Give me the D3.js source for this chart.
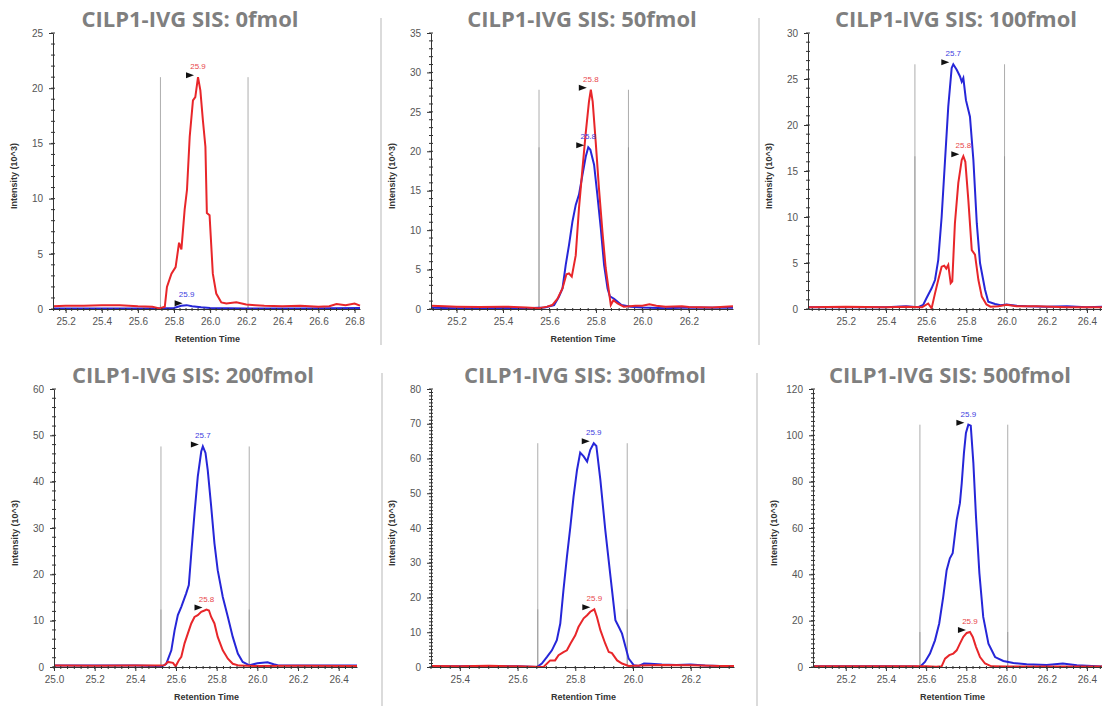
<!DOCTYPE html>
<html>
<head>
<meta charset="utf-8">
<script src="https://cdn.jsdelivr.net/npm/d3@7"></script>
<style>
  body { margin: 0; background: #fff; }
  svg { display: block; }
</style>
</head>
<body>
<div id="chart"></div>
<script>
// panel titles and axis settings
const titles = ["CILP1-IVG SIS: 0fmol", "CILP1-IVG SIS: 50fmol", "CILP1-IVG SIS: 100fmol",
                "CILP1-IVG SIS: 200fmol", "CILP1-IVG SIS: 300fmol", "CILP1-IVG SIS: 500fmol"];
const xDomains = [[25.13, 26.83], [25.09, 26.39], [25.012, 26.48], [25.0, 26.49], [25.3, 26.35], [25.037, 26.48]];
const xTickVals = [
  [25.2, 25.4, 25.6, 25.8, 26.0, 26.2, 26.4, 26.6, 26.8],
  [25.2, 25.4, 25.6, 25.8, 26.0, 26.2],
  [25.2, 25.4, 25.6, 25.8, 26.0, 26.2, 26.4],
  [25.0, 25.2, 25.4, 25.6, 25.8, 26.0, 26.2, 26.4],
  [25.4, 25.6, 25.8, 26.0, 26.2],
  [25.2, 25.4, 25.6, 25.8, 26.0, 26.2, 26.4]
];
const yMax = [25, 35, 30, 60, 80, 120];
const yStep = [5, 5, 5, 10, 10, 20];
const yMinorStep = [1, 1, 1, 2, 1, 2];
const peakBounds = [[25.725, 26.21], [25.555, 25.94], [25.544, 25.99], [25.526, 25.96], [25.67, 25.98], [25.569, 26.006]];
const redApexLabels = ["25.9", "25.8", "25.8", "25.8", "25.9", "25.9"];
const blueApexLabels = ["25.9", "25.8", "25.7", "25.7", "25.9", "25.9"];

// traces: [retention time, intensity 10^3]
const p1Red = [[25.13,0.25],[25.2,0.3],[25.3,0.3],[25.4,0.35],[25.5,0.35],[25.55,0.3],[25.6,0.25],[25.68,0.2],[25.72,0.05],[25.749,0.2],[25.761,2.0],[25.786,3.2],[25.809,3.8],[25.828,6.0],[25.841,5.4],[25.859,9.0],[25.872,10.8],[25.887,15.6],[25.905,18.9],[25.918,19.2],[25.933,21.0],[25.946,19.8],[25.96,17.1],[25.974,14.7],[25.982,8.7],[25.997,8.5],[26.015,3.2],[26.034,1.4],[26.062,0.6],[26.09,0.5],[26.145,0.6],[26.2,0.4],[26.25,0.35],[26.3,0.3],[26.4,0.25],[26.5,0.3],[26.6,0.2],[26.66,0.25],[26.7,0.45],[26.75,0.35],[26.8,0.5],[26.83,0.3]];
const p1Blue = [[25.13,0.05],[25.4,0.05],[25.7,0.05],[25.8,0.1],[25.84,0.3],[25.87,0.35],[25.9,0.25],[25.95,0.15],[26.0,0.1],[26.2,0.05],[26.5,0.05],[26.83,0.1]];
const p2Red = [[25.09,0.4],[25.15,0.35],[25.2,0.3],[25.3,0.25],[25.4,0.3],[25.5,0.2],[25.555,0.1],[25.59,0.3],[25.612,0.5],[25.634,1.27],[25.656,2.6],[25.673,4.4],[25.684,4.5],[25.696,4.1],[25.713,6.8],[25.727,12.8],[25.742,17.8],[25.756,22.3],[25.77,26.3],[25.778,27.8],[25.786,26.3],[25.799,21.2],[25.813,15.3],[25.828,9.8],[25.842,5.2],[25.856,2.2],[25.864,0.5],[25.875,1.1],[25.893,0.7],[25.92,0.3],[25.97,0.4],[26.0,0.4],[26.03,0.6],[26.06,0.4],[26.1,0.3],[26.17,0.35],[26.2,0.25],[26.3,0.2],[26.39,0.35]];
const p2Blue = [[25.09,0.15],[25.2,0.1],[25.3,0.1],[25.4,0.15],[25.5,0.1],[25.58,0.2],[25.62,0.5],[25.64,1.5],[25.656,2.6],[25.67,5.6],[25.684,8.1],[25.699,11.1],[25.713,13.2],[25.727,14.5],[25.742,17.0],[25.756,19.3],[25.767,20.5],[25.776,20.2],[25.792,18.3],[25.806,14.5],[25.821,10.2],[25.835,5.6],[25.85,2.6],[25.86,1.6],[25.878,1.3],[25.91,0.5],[25.95,0.3],[26.0,0.2],[26.1,0.1],[26.2,0.2],[26.39,0.15]];
const p3Red = [[25.012,0.2],[25.2,0.25],[25.4,0.2],[25.5,0.25],[25.58,0.2],[25.61,0.6],[25.627,0.07],[25.644,1.7],[25.66,3.15],[25.677,4.6],[25.69,4.7],[25.7,4.4],[25.71,4.8],[25.722,2.8],[25.73,3.0],[25.743,9.3],[25.76,13.7],[25.777,16.2],[25.785,16.6],[25.795,16.0],[25.81,11.8],[25.827,6.4],[25.843,5.9],[25.86,3.15],[25.877,1.35],[25.9,0.5],[25.92,0.25],[25.96,0.3],[26.0,0.45],[26.05,0.3],[26.15,0.3],[26.3,0.2],[26.48,0.2]];
const p3Blue = [[25.012,0.2],[25.2,0.2],[25.4,0.2],[25.5,0.3],[25.56,0.2],[25.585,0.43],[25.602,1.2],[25.627,2.25],[25.644,3.15],[25.66,5.3],[25.677,10.0],[25.694,16.2],[25.71,22.0],[25.727,26.2],[25.735,26.6],[25.752,26.0],[25.768,25.3],[25.777,24.7],[25.785,25.1],[25.798,22.7],[25.818,20.9],[25.835,16.2],[25.852,9.3],[25.868,5.0],[25.893,2.1],[25.909,0.8],[25.943,0.55],[25.97,0.4],[26.0,0.5],[26.05,0.35],[26.1,0.3],[26.2,0.25],[26.3,0.3],[26.4,0.2],[26.48,0.25]];
const p4Red = [[25.0,0.3],[25.2,0.25],[25.4,0.3],[25.52,0.3],[25.544,0.4],[25.56,1.1],[25.585,0.9],[25.598,0.15],[25.614,1.45],[25.626,2.2],[25.642,5.1],[25.658,7.2],[25.675,9.4],[25.691,10.8],[25.707,11.2],[25.724,11.9],[25.74,12.2],[25.75,12.4],[25.762,12.2],[25.773,10.8],[25.789,9.4],[25.805,6.5],[25.83,3.6],[25.855,1.8],[25.879,0.7],[25.91,0.3],[26.0,0.2],[26.2,0.25],[26.49,0.2]];
const p4Blue = [[25.0,0.3],[25.2,0.3],[25.4,0.3],[25.5,0.2],[25.527,0],[25.552,0.7],[25.577,3.6],[25.593,7.9],[25.609,11.2],[25.626,13.0],[25.65,15.9],[25.663,17.7],[25.675,24.5],[25.691,33.2],[25.707,41.1],[25.724,46.5],[25.732,47.6],[25.745,46.2],[25.756,42.5],[25.773,34.6],[25.789,26.7],[25.805,20.9],[25.83,15.1],[25.855,10.8],[25.879,6.5],[25.904,2.9],[25.928,1.1],[25.961,0.37],[26.0,0.8],[26.05,1.0],[26.08,0.6],[26.1,0.4],[26.2,0.3],[26.3,0.35],[26.49,0.3]];
const p5Red = [[25.3,0.3],[25.4,0.25],[25.5,0.35],[25.6,0.2],[25.66,0.1],[25.69,0.0],[25.713,1.9],[25.73,1.9],[25.742,3.4],[25.759,4.3],[25.771,4.8],[25.783,6.7],[25.8,9.1],[25.811,11.5],[25.829,14.0],[25.841,14.9],[25.852,15.9],[25.866,16.6],[25.875,14.4],[25.887,10.6],[25.904,6.7],[25.916,4.3],[25.927,4.0],[25.945,1.9],[25.962,1.0],[25.985,0.3],[26.03,0.4],[26.1,0.6],[26.2,0.5],[26.3,0.3],[26.35,0.3]];
const p5Blue = [[25.3,0.2],[25.4,0.2],[25.5,0.3],[25.6,0.2],[25.667,0],[25.684,1.0],[25.702,2.9],[25.719,4.8],[25.736,7.7],[25.748,12.5],[25.759,22.1],[25.771,31.7],[25.783,40.4],[25.794,49.0],[25.806,56.7],[25.817,61.7],[25.829,60.6],[25.841,59.1],[25.852,62.5],[25.864,64.4],[25.873,63.6],[25.887,53.8],[25.904,39.4],[25.922,26.0],[25.939,13.5],[25.951,11.5],[25.962,9.6],[25.974,5.8],[25.985,2.4],[26.003,0.5],[26.02,0.3],[26.038,1.0],[26.06,0.9],[26.1,0.7],[26.15,0.6],[26.2,0.7],[26.25,0.4],[26.3,0.3],[26.35,0.2]];
const p6Red = [[25.037,0.3],[25.2,0.3],[25.4,0.3],[25.6,0.3],[25.65,0.1],[25.677,0.3],[25.694,3.6],[25.715,5.1],[25.735,5.8],[25.752,7.2],[25.768,10.1],[25.785,13.0],[25.802,14.7],[25.818,15.1],[25.832,13.0],[25.848,8.7],[25.868,4.3],[25.893,1.5],[25.925,0.3],[26.0,0.2],[26.2,0.2],[26.48,0.2]];
const p6Blue = [[25.037,0.3],[25.2,0.3],[25.4,0.3],[25.55,0.2],[25.569,0],[25.594,2.2],[25.619,5.8],[25.644,11.5],[25.665,18.8],[25.685,30.3],[25.702,41.8],[25.718,46.9],[25.732,49.1],[25.752,63.5],[25.768,70.7],[25.777,79.3],[25.788,92.3],[25.798,101.0],[25.81,104.6],[25.822,104.2],[25.835,88.0],[25.848,64.9],[25.865,40.4],[25.884,21.6],[25.91,10.1],[25.943,4.3],[25.984,2.6],[26.034,1.7],[26.1,1.2],[26.2,0.9],[26.28,1.5],[26.35,0.8],[26.45,0.3],[26.48,0.2]];

const redSeries = [p1Red, p2Red, p3Red, p4Red, p5Red, p6Red];
const blueSeries = [p1Blue, p2Blue, p3Blue, p4Blue, p5Blue, p6Blue];

const width = 1102, height = 706;
// plot area of each panel in pixels
const boxes = [
  { left: 53,  right: 360,  top: 33,  bottom: 309 },
  { left: 431, right: 733,  top: 33,  bottom: 309 },
  { left: 808, right: 1103, top: 33,  bottom: 309 },
  { left: 54,  right: 357,  top: 389, bottom: 667 },
  { left: 431, right: 734,  top: 389, bottom: 667 },
  { left: 813, right: 1103, top: 389, bottom: 667 }
];
const titleX = [190, 582, 956, 193, 585, 950];

const red = "#e8262a", blue = "#2626d8";

let svg = d3.select("#chart")
  .append("svg")
  .attr("width", width)
  .attr("height", height);

// thin separators between panels
const seps = [[381, 18, 345], [759, 18, 345], [382, 373, 706], [757, 373, 706]];
svg.selectAll(".sep")
  .data(seps)
  .join("line")
  .attr("x1", d => d[0]).attr("x2", d => d[0])
  .attr("y1", d => d[1]).attr("y2", d => d[2])
  .attr("stroke", "#cfcfcf")
  .attr("stroke-width", 1.5);

boxes.forEach((b, i) => {
  let g = svg.append("g");

  let x = d3.scaleLinear().domain(xDomains[i]).range([b.left, b.right]);
  let y = d3.scaleLinear().domain([0, yMax[i]]).range([b.bottom, b.top]);

  // title
  g.append("text")
    .attr("x", titleX[i])
    .attr("y", b.top - 6)
    .attr("text-anchor", "middle")
    .style("font-family", "'Open Sans', sans-serif")
    .style("font-weight", "bold")
    .style("font-size", "22px")
    .style("fill", "#7f7f7f")
    .text(titles[i]);

  // peak integration boundaries, one line per trace apex
  let redMax = d3.max(redSeries[i], d => d[1]);
  let blueMax = d3.max(blueSeries[i], d => d[1]);
  [redMax, blueMax].forEach(m => {
    g.selectAll(null)
      .data(peakBounds[i])
      .join("line")
      .attr("x1", d => x(d)).attr("x2", d => x(d))
      .attr("y1", y(0)).attr("y2", y(m))
      .attr("stroke", "#8a8a8a")
      .attr("stroke-opacity", 0.7)
      .attr("stroke-width", 1);
  });

  // traces
  let line = d3.line().x(d => x(d[0])).y(d => y(d[1]));
  g.append("path")
    .datum(blueSeries[i])
    .attr("d", line)
    .attr("fill", "none")
    .attr("stroke", blue)
    .attr("stroke-width", 2);
  g.append("path")
    .datum(redSeries[i])
    .attr("d", line)
    .attr("fill", "none")
    .attr("stroke", red)
    .attr("stroke-width", 2);

  // apex markers
  const apex = [
    { pt: redSeries[i].reduce((a, c) => c[1] > a[1] ? c : a), label: redApexLabels[i], color: "#e8474b" },
    { pt: blueSeries[i].reduce((a, c) => c[1] > a[1] ? c : a), label: blueApexLabels[i], color: "#4040e0" }
  ];
  apex.forEach(a => {
    let ax = x(a.pt[0]), ay = y(a.pt[1]);
    g.append("path")
      .attr("d", `M${ax - 12},${ay - 5} L${ax - 4},${ay - 2} L${ax - 12},${ay + 1} Z`)
      .attr("fill", "#111");
    g.append("text")
      .attr("x", ax)
      .attr("y", ay - 8)
      .attr("text-anchor", "middle")
      .style("font-family", "'Liberation Sans', Arial, sans-serif")
      .style("font-size", "8px")
      .style("fill", a.color)
      .text(a.label);
  });

  // y axis
  let yTicks = d3.range(0, yMax[i] + 0.001, yStep[i]);
  let yMinor = d3.range(0, yMax[i] + 0.001, yMinorStep[i]);
  let yAxis = g.append("g")
    .attr("transform", `translate(${b.left},0)`)
    .call(d3.axisLeft(y).tickValues(yTicks).tickSize(4).tickSizeOuter(0).tickPadding(6));
  yAxis.selectAll("text")
    .style("font-family", "'Liberation Sans', Arial, sans-serif")
    .style("font-size", "10px")
    .style("fill", "#555");
  yAxis.selectAll("line, path").attr("stroke", "#333");
  g.selectAll(null)
    .data(yMinor)
    .join("line")
    .attr("x1", b.left - 2).attr("x2", b.left + 2)
    .attr("y1", d => y(d)).attr("y2", d => y(d))
    .attr("stroke", "#333");

  // x axis
  let xMinor = d3.range(Math.ceil(xDomains[i][0] * 30), Math.floor(xDomains[i][1] * 30) + 1).map(k => k / 30);
  let xAxis = g.append("g")
    .attr("transform", `translate(0,${b.bottom})`)
    .call(d3.axisBottom(x).tickValues(xTickVals[i]).tickFormat(d3.format(".1f")).tickSize(4).tickSizeOuter(0).tickPadding(5));
  xAxis.selectAll("text")
    .style("font-family", "'Liberation Sans', Arial, sans-serif")
    .style("font-size", "10px")
    .style("fill", "#555");
  xAxis.selectAll("line, path").attr("stroke", "#333");
  g.selectAll(null)
    .data(xMinor)
    .join("line")
    .attr("x1", d => x(d)).attr("x2", d => x(d))
    .attr("y1", b.bottom - 1).attr("y2", b.bottom + 2)
    .attr("stroke", "#333");

  // axis titles
  g.append("text")
    .attr("transform", `translate(${b.left - 36},${(b.top + b.bottom) / 2 + 5}) rotate(-90)`)
    .attr("text-anchor", "middle")
    .style("font-family", "'Liberation Sans', Arial, sans-serif")
    .style("font-weight", "bold")
    .style("font-size", "9px")
    .style("fill", "#333")
    .text("Intensity (10^3)");

  g.append("text")
    .attr("x", (b.left + Math.min(b.right, 1090)) / 2 + 1)
    .attr("y", b.bottom + 33)
    .attr("text-anchor", "middle")
    .style("font-family", "'Liberation Sans', Arial, sans-serif")
    .style("font-weight", "bold")
    .style("font-size", "9px")
    .style("fill", "#333")
    .text("Retention Time");
});
</script>
</body>
</html>
